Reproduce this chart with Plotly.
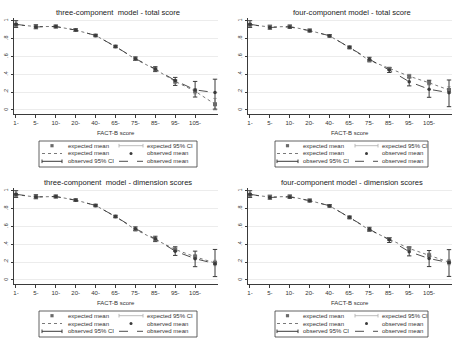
import plotly.graph_objects as go

W, H = 456, 340

# ---------------- data ----------------
x_pos = [1, 2, 3, 4, 5, 6, 7, 8, 9, 10, 11]
tick_labels = ["1-", "5-", "10-", "20-", "40-", "65-", "75-", "85-", "95-", "105-"]
titles = ["three-component\u00a0 model - total score",
          "four-component model - total score",
          "three-component\u00a0 model - dimension scores",
          "four-component model - dimension scores"]

p1_exp = [0.955, 0.935, 0.935, 0.895, 0.835, 0.71, 0.57, 0.455, 0.32, 0.21, 0.065]
p1_exp_lo = [0.945, 0.925, 0.925, 0.885, 0.825, 0.70, 0.56, 0.44, 0.30, 0.18, 0.0]
p1_exp_hi = [0.965, 0.945, 0.945, 0.905, 0.845, 0.72, 0.58, 0.47, 0.34, 0.24, 0.13]
p1_obs = [0.96, 0.93, 0.935, 0.895, 0.835, 0.71, 0.575, 0.46, 0.33, 0.225, 0.195]
p1_obs_lo = [0.925, 0.91, 0.92, 0.88, 0.825, 0.70, 0.555, 0.43, 0.275, 0.145, 0.01]
p1_obs_hi = [1.0, 0.955, 0.95, 0.91, 0.845, 0.72, 0.595, 0.485, 0.365, 0.32, 0.345]

p2_exp = [0.955, 0.93, 0.935, 0.89, 0.83, 0.70, 0.555, 0.463, 0.378, 0.305, 0.224]
p2_exp_lo = [0.945, 0.92, 0.925, 0.88, 0.82, 0.69, 0.545, 0.45, 0.36, 0.28, 0.19]
p2_exp_hi = [0.965, 0.94, 0.945, 0.90, 0.84, 0.71, 0.565, 0.475, 0.40, 0.33, 0.26]
p2_obs = [0.96, 0.925, 0.93, 0.888, 0.832, 0.702, 0.568, 0.448, 0.317, 0.232, 0.194]
p2_obs_lo = [0.925, 0.905, 0.915, 0.875, 0.82, 0.69, 0.55, 0.42, 0.27, 0.142, 0.037]
p2_obs_hi = [1.0, 0.95, 0.95, 0.905, 0.845, 0.715, 0.59, 0.475, 0.36, 0.333, 0.336]

p3_exp = [0.955, 0.93, 0.935, 0.895, 0.835, 0.71, 0.565, 0.455, 0.342, 0.26, 0.19]
p3_exp_lo = [0.945, 0.92, 0.925, 0.885, 0.825, 0.70, 0.555, 0.44, 0.32, 0.235, 0.16]
p3_exp_hi = [0.965, 0.94, 0.945, 0.905, 0.845, 0.72, 0.575, 0.47, 0.36, 0.285, 0.22]
p3_obs = [0.96, 0.93, 0.935, 0.893, 0.835, 0.71, 0.575, 0.462, 0.323, 0.239, 0.183]
p3_obs_lo = [0.925, 0.91, 0.92, 0.88, 0.825, 0.70, 0.555, 0.43, 0.275, 0.149, 0.038]
p3_obs_hi = [1.0, 0.955, 0.95, 0.905, 0.845, 0.72, 0.595, 0.49, 0.372, 0.323, 0.342]

p4_exp = [0.955, 0.93, 0.935, 0.89, 0.83, 0.70, 0.56, 0.46, 0.353, 0.276, 0.20]
p4_exp_lo = [0.945, 0.92, 0.925, 0.88, 0.82, 0.69, 0.55, 0.445, 0.335, 0.25, 0.17]
p4_exp_hi = [0.965, 0.94, 0.945, 0.90, 0.84, 0.71, 0.57, 0.475, 0.37, 0.30, 0.23]
p4_obs = [0.96, 0.925, 0.93, 0.888, 0.832, 0.702, 0.568, 0.45, 0.317, 0.24, 0.195]
p4_obs_lo = [0.925, 0.905, 0.915, 0.875, 0.82, 0.69, 0.55, 0.42, 0.27, 0.15, 0.04]
p4_obs_hi = [1.0, 0.95, 0.95, 0.905, 0.845, 0.715, 0.59, 0.475, 0.37, 0.33, 0.34]

panels = [
    (p1_exp, p1_exp_lo, p1_exp_hi, p1_obs, p1_obs_lo, p1_obs_hi),
    (p2_exp, p2_exp_lo, p2_exp_hi, p2_obs, p2_obs_lo, p2_obs_hi),
    (p3_exp, p3_exp_lo, p3_exp_hi, p3_obs, p3_obs_lo, p3_obs_hi),
    (p4_exp, p4_exp_lo, p4_exp_hi, p4_obs, p4_obs_lo, p4_obs_hi),
]

# ---------------- layout geometry (pixels) ----------------
FONT = "Liberation Sans, Arial, sans-serif"
DARK = "#3a3a3a"
MID = "#6a6a6a"
LIGHT = "#b4b4b4"

# plot areas: (x0, x1, ytop, ybottom)
areas = [(14, 218, 17.5, 114), (248, 452, 17.5, 114),
         (14, 218, 187.5, 284), (248, 452, 187.5, 284)]


def px(x):
    return x / W


def py(y):
    return 1 - y / H


fig = go.Figure()
layout = dict(width=W, height=H, margin=dict(l=0, r=0, t=0, b=0),
              paper_bgcolor="white", plot_bgcolor="white", showlegend=False)

annotations = []
shapes = []

for i, (area, data) in enumerate(zip(areas, panels)):
    x0, x1, yt, yb = area
    exp, exp_lo, exp_hi, obs, obs_lo, obs_hi = data
    suf = "" if i == 0 else str(i + 1)
    xa, ya = "x" + suf, "y" + suf

    layout["xaxis" + suf] = dict(
        domain=[px(x0), px(x1)], range=[0.9, 11.15], anchor=ya,
        tickvals=x_pos[:10], ticktext=tick_labels, ticks="outside", ticklen=3,
        tickwidth=0.8, tickcolor=DARK, showline=True, linecolor=DARK, linewidth=0.8,
        showgrid=False, zeroline=False, tickfont=dict(family=FONT, size=6, color="#333"))
    layout["yaxis" + suf] = dict(
        domain=[py(yb), py(yt)], range=[-0.045, 1.036], anchor=xa,
        tickvals=[0, 0.2, 0.4, 0.6, 0.8, 1], ticktext=["0", ".2", ".4", ".6", ".8", "1"],
        tickangle=-90, ticks="outside", ticklen=2.5, tickwidth=0.8, tickcolor=DARK,
        showline=True, linecolor=DARK, linewidth=0.8,
        showgrid=True, gridcolor="#ececec", gridwidth=0.8, zeroline=False,
        tickfont=dict(family=FONT, size=5.5, color="#333"))

    # expected 95% CI (light)
    fig.add_trace(go.Scatter(
        x=x_pos, y=exp, mode="markers", xaxis=xa, yaxis=ya,
        marker=dict(size=0.1, color="rgba(0,0,0,0)"),
        error_y=dict(type="data", symmetric=False,
                     array=[h - e for h, e in zip(exp_hi, exp)],
                     arrayminus=[e - l for e, l in zip(exp, exp_lo)],
                     color=LIGHT, thickness=0.9, width=2)))
    # observed 95% CI (dark)
    fig.add_trace(go.Scatter(
        x=x_pos, y=obs, mode="markers", xaxis=xa, yaxis=ya,
        marker=dict(size=0.1, color="rgba(0,0,0,0)"),
        error_y=dict(type="data", symmetric=False,
                     array=[h - o for h, o in zip(obs_hi, obs)],
                     arrayminus=[o - l for o, l in zip(obs, obs_lo)],
                     color=DARK, thickness=1, width=2.2)))
    # expected mean: dotted line + squares
    fig.add_trace(go.Scatter(
        x=x_pos, y=exp, mode="lines+markers", xaxis=xa, yaxis=ya,
        line=dict(color=MID, width=0.9, dash="dot"),
        marker=dict(symbol="square", size=4, color=MID)))
    # observed mean: dashed line + dots
    fig.add_trace(go.Scatter(
        x=x_pos, y=obs, mode="lines+markers", xaxis=xa, yaxis=ya,
        line=dict(color=DARK, width=0.9, dash="dash"),
        marker=dict(symbol="circle", size=3.5, color=DARK)))

    cx = (x0 + x1) / 2
    oy = 0 if i < 2 else 170
    # title
    annotations.append(dict(x=px(cx + 1.5), y=py(12.7 + oy), xref="paper", yref="paper",
                            text=titles[i], showarrow=False, xanchor="center", yanchor="middle",
                            font=dict(family=FONT, size=7.6, color="#222")))
    # x axis title
    annotations.append(dict(x=px(cx), y=py(132.7 + oy), xref="paper", yref="paper",
                            text="FACT-B score", showarrow=False, xanchor="center", yanchor="middle",
                            font=dict(family=FONT, size=6, color="#333")))

    # ---- legend (manual, inside a framed box) ----
    if i % 2 == 0:
        bx0, bx1 = 39, 197
        ls0, ls1, lt = 42, 62, 66
        rs0, rs1, rt = 119, 143, 145
    else:
        bx0, bx1 = 275, 428
        ls0, ls1, lt = 277, 298, 301
        rs0, rs1, rt = 355, 378, 380
    by0, by1 = 141 + oy, 167 + oy
    rows = [145.7 + oy, 153.5 + oy, 161.3 + oy]
    shapes.append(dict(type="rect", xref="paper", yref="paper",
                       x0=px(bx0), x1=px(bx1), y0=py(by1), y1=py(by0),
                       line=dict(color=DARK, width=0.8), fillcolor="white", layer="above"))
    legend_text = [("expected mean", "expected 95% CI"),
                   ("expected mean", "observed mean"),
                   ("observed 95% CI", "observed mean")]
    for r, (ltxt, rtxt) in enumerate(legend_text):
        yy = rows[r]
        annotations.append(dict(x=px(lt), y=py(yy), xref="paper", yref="paper", text=ltxt,
                                showarrow=False, xanchor="left", yanchor="middle",
                                font=dict(family=FONT, size=6, color="#333")))
        annotations.append(dict(x=px(rt), y=py(yy), xref="paper", yref="paper", text=rtxt,
                                showarrow=False, xanchor="left", yanchor="middle",
                                font=dict(family=FONT, size=6, color="#333")))
    lc = (ls0 + ls1) / 2
    rc = (rs0 + rs1) / 2
    # row 1 left: square marker
    shapes.append(dict(type="rect", xref="paper", yref="paper",
                       x0=px(lc - 1.6), x1=px(lc + 1.6), y0=py(rows[0] + 1.6), y1=py(rows[0] - 1.6),
                       line=dict(width=0), fillcolor=MID, layer="above"))
    # row 1 right: light CI line with caps
    shapes.append(dict(type="line", xref="paper", yref="paper",
                       x0=px(rs0), x1=px(rs1), y0=py(rows[0]), y1=py(rows[0]),
                       line=dict(color=LIGHT, width=0.9), layer="above"))
    for xx in (rs0, rs1):
        shapes.append(dict(type="line", xref="paper", yref="paper",
                           x0=px(xx), x1=px(xx), y0=py(rows[0] - 1.8), y1=py(rows[0] + 1.8),
                           line=dict(color=LIGHT, width=0.9), layer="above"))
    # row 2 left: dotted line
    shapes.append(dict(type="line", xref="paper", yref="paper",
                       x0=px(ls0), x1=px(ls1), y0=py(rows[1]), y1=py(rows[1]),
                       line=dict(color=MID, width=0.9, dash="dot"), layer="above"))
    # row 2 right: dot
    shapes.append(dict(type="circle", xref="paper", yref="paper",
                       x0=px(rc - 1.5), x1=px(rc + 1.5), y0=py(rows[1] + 1.5), y1=py(rows[1] - 1.5),
                       line=dict(width=0), fillcolor=DARK, layer="above"))
    # row 3 left: dark CI line with caps
    shapes.append(dict(type="line", xref="paper", yref="paper",
                       x0=px(ls0), x1=px(ls1), y0=py(rows[2]), y1=py(rows[2]),
                       line=dict(color=DARK, width=1), layer="above"))
    for xx in (ls0, ls1):
        shapes.append(dict(type="line", xref="paper", yref="paper",
                           x0=px(xx), x1=px(xx), y0=py(rows[2] - 1.8), y1=py(rows[2] + 1.8),
                           line=dict(color=DARK, width=1), layer="above"))
    # row 3 right: dashed line
    shapes.append(dict(type="line", xref="paper", yref="paper",
                       x0=px(rs0), x1=px(rs1), y0=py(rows[2]), y1=py(rows[2]),
                       line=dict(color=DARK, width=0.9, dash="dash"), layer="above"))

layout["annotations"] = annotations
layout["shapes"] = shapes
fig.update_layout(**layout)
fig.write_html("out.html")
